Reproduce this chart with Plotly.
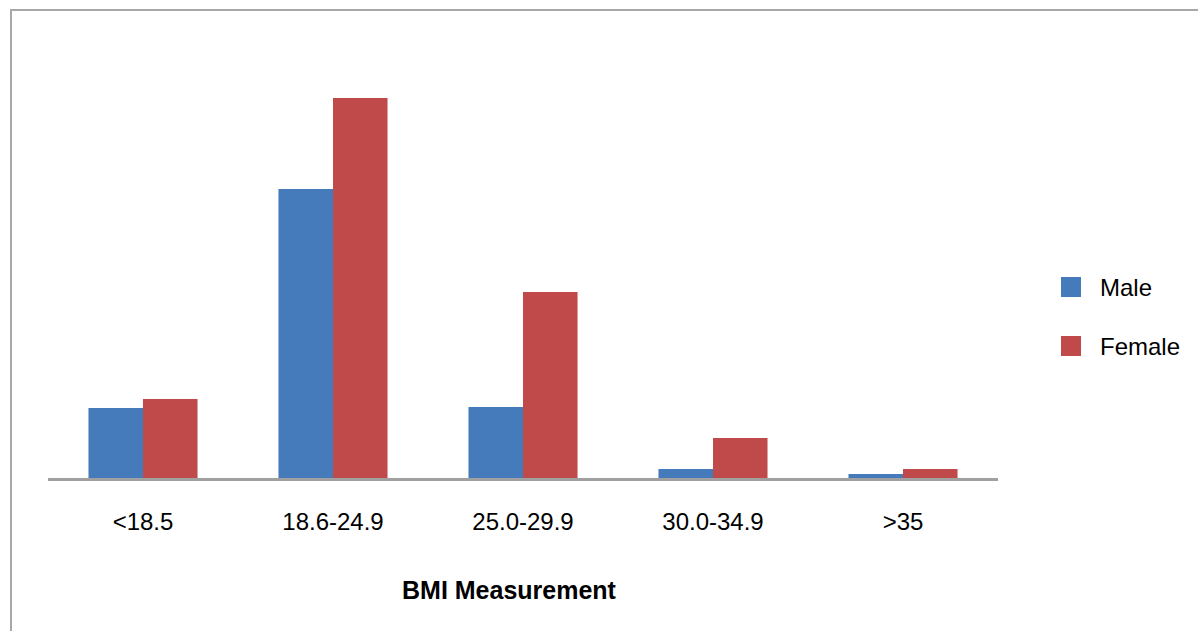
import plotly.graph_objects as go

# BMI bands and counts per sex
categories = ["<18.5", "18.6-24.9", "25.0-29.9", "30.0-34.9", ">35"]
series_names = ["Male", "Female"]
male = [70, 289, 71, 9, 4]
female = [79, 380, 186, 40, 9]
series_colors = ["#457BBB", "#C0494A"]
x_title = "BMI Measurement"

W, H = 1198, 631
L, R, T, B = 48, 200, 40, 153
ymax = 438

fig = go.Figure()
for name, vals, col in zip(series_names, [male, female], series_colors):
    fig.add_trace(go.Bar(x=categories, y=vals, name=name, marker_color=col,
                         marker_line_width=0, showlegend=False))

pw, ph = W - L - R, H - T - B


def px_x(px):
    return (px - L) / pw


def px_y(py):
    return (H - B - py) / ph


shapes = []
annotations = []
# outer frame (left and top edges visible)
shapes.append(dict(type="line", xref="paper", yref="paper",
                   x0=px_x(11), x1=px_x(11), y0=px_y(10), y1=px_y(H + 5),
                   line=dict(color="#A8A8A8", width=2)))
shapes.append(dict(type="line", xref="paper", yref="paper",
                   x0=px_x(10), x1=px_x(W + 5), y0=px_y(10), y1=px_y(10),
                   line=dict(color="#A8A8A8", width=2)))

# legend
for i, (name, col) in enumerate(zip(series_names, series_colors)):
    cy = 287 + i * 59
    shapes.append(dict(type="rect", xref="paper", yref="paper",
                       x0=px_x(1061), x1=px_x(1081), y0=px_y(cy - 10), y1=px_y(cy + 10),
                       fillcolor=col, line=dict(width=0)))
    annotations.append(dict(xref="paper", yref="paper", x=px_x(1098), y=px_y(cy),
                            xanchor="left", yanchor="middle", showarrow=False,
                            text=name, font=dict(size=24, color="#000000",
                                                 family="Liberation Sans, Arial")))

# category axis title
annotations.append(dict(xref="paper", yref="paper", x=px_x(509.5), y=px_y(590),
                        xanchor="center", yanchor="middle", showarrow=False,
                        text="<b>" + x_title + "</b>",
                        font=dict(size=25, color="#000000",
                                  family="Liberation Sans, Arial")))

fig.update_layout(
    width=W, height=H,
    margin=dict(l=L, r=R, t=T, b=B, pad=0),
    paper_bgcolor="white", plot_bgcolor="white",
    barmode="group", bargap=0.426, bargroupgap=0,
    font=dict(family="Liberation Sans, Arial", size=24, color="#000000"),
    xaxis=dict(showline=True, linecolor="#A0A0A0", linewidth=3, showgrid=False,
               ticks="", ticklabelstandoff=20, tickfont=dict(size=24)),
    yaxis=dict(range=[0, ymax], visible=False, showgrid=False, zeroline=False),
    shapes=shapes, annotations=annotations,
    showlegend=False,
)

fig.write_html("out.html")
